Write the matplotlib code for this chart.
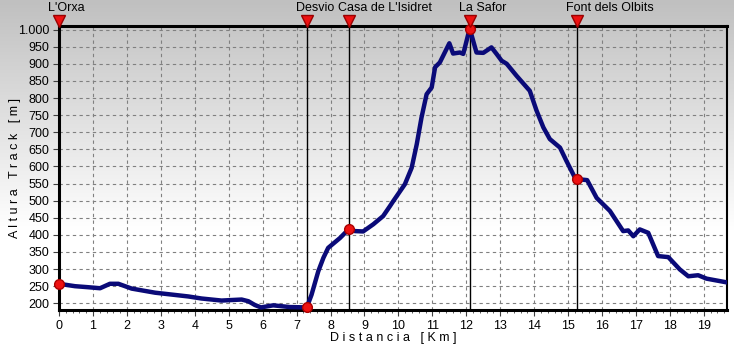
import numpy as np
import matplotlib
matplotlib.use('Agg')
from matplotlib import pyplot as plt
from matplotlib import transforms
from matplotlib.ticker import FuncFormatter, MultipleLocator

plt.rcParams['font.family'] = ['Liberation Sans', 'DejaVu Sans']

# profile of the track (km, m)
dist = [0.0, 0.47, 0.86, 1.21, 1.50, 1.75, 2.14, 2.83, 3.81, 4.20, 4.79, 5.38,
        5.58, 5.77, 5.95, 6.31, 6.80, 7.30, 7.44, 7.64, 7.79, 7.93, 8.28, 8.55,
        8.72, 8.96, 9.26, 9.55, 9.75, 9.85, 10.19, 10.39, 10.54, 10.68, 10.83,
        10.98, 11.08, 11.22, 11.32, 11.50, 11.61, 11.81, 11.91, 12.10, 12.30,
        12.50, 12.74, 12.89, 13.04, 13.19, 13.48, 13.87, 14.07, 14.27, 14.46,
        14.76, 14.95, 15.20, 15.27, 15.56, 15.84, 16.23, 16.62, 16.77, 16.92,
        17.11, 17.36, 17.65, 17.95, 18.29, 18.54, 18.83, 19.08, 19.68]
alt = [257, 250, 247, 244, 257, 257, 243, 231, 220, 214, 208, 211,
       206, 195, 188, 194, 189, 188, 225, 294, 333, 362, 391, 418,
       411, 410, 431, 455, 484, 499, 548, 596, 665, 743, 811,
       831, 890, 904, 924, 960, 930, 933, 929, 1003, 933,
       932, 948, 929, 909, 900, 865, 821, 763, 714, 680,
       655, 616, 567, 563, 560, 508, 470, 411, 413, 396,
       416, 406, 338, 335, 299, 279, 282, 272, 261]

# waypoints
wp_names = ["L'Orxa", "Desvio", "Casa de L'Isidret", "La Safor", "Font dels Olbits"]
wp_dist = [0.0, 7.30, 8.55, 12.10, 15.27]
wp_alt = [257, 188, 418, 1003, 563]

fig = plt.figure(figsize=(7.34, 3.45), dpi=100)

# gray gradient behind everything
bg = fig.add_axes([0, 0, 1, 1], zorder=-10)
grad = np.clip(np.linspace(0, 1.5, 256), 0, 1).reshape(-1, 1)
bg.imshow(grad, aspect='auto', cmap=matplotlib.colors.LinearSegmentedColormap.from_list(
    'g', ['#c0c0c0', '#ffffff']), extent=[0, 1, 0, 1], origin='upper')
bg.axis('off')

ax = fig.add_axes([59 / 734, 1 - 310 / 345, 668 / 734, 284 / 345])
ax.set_facecolor('none')

ax.set_xlim(0, 19.68)
ax.set_ylim(180.4, 1010.5)

ax.xaxis.set_major_locator(MultipleLocator(1))
ax.xaxis.set_minor_locator(MultipleLocator(0.2))
ax.yaxis.set_major_locator(MultipleLocator(50))
ax.yaxis.set_major_formatter(FuncFormatter(lambda v, p: f'{int(v):,}'.replace(',', '.')))

ax.grid(True, which='major', color='#808080', linestyle=(0, (3, 3)), linewidth=0.8)
ax.tick_params(which='major', length=4, width=0.8, labelsize=9, color='#404040', pad=3)
ax.tick_params(which='minor', length=2, width=0.6, color='#404040')

for side in ['left', 'bottom', 'top']:
    ax.spines[side].set_linewidth(2.2)
ax.spines['right'].set_linewidth(1.5)

for x in wp_dist[1:]:
    ax.axvline(x, color='black', linewidth=1, zorder=2)

ax.plot(dist, alt, color='#0a0a78', linewidth=3.2, solid_joinstyle='round', zorder=3)
ax.plot(wp_dist, wp_alt, 'o', color='#ee1111', markeredgecolor='#aa0000',
        markersize=7, clip_on=False, zorder=4)

trans = ax.get_xaxis_transform()
ax.plot(wp_dist, [1.019] * len(wp_dist), 'v', color='#ee1111', markeredgecolor='#990000',
        markersize=8, transform=trans, clip_on=False, zorder=5)
label_trans = transforms.offset_copy(trans, fig=fig, x=-11, y=0, units='dots')
for name, x in zip(wp_names, wp_dist):
    ax.text(x, 1.062, name, transform=label_trans, ha='left', va='center', fontsize=9)

ax.set_xlabel('D i s t a n c i a   [ K m ]', fontsize=9, va='center')
ax.set_ylabel('A l t u r a   T r a c k   [ m ]', fontsize=9, va='center')
ax.xaxis.set_label_coords(0.5, -28 / 284)
ax.yaxis.set_label_coords(-44 / 668, 0.5)

plt.savefig('out.png', dpi=100)
